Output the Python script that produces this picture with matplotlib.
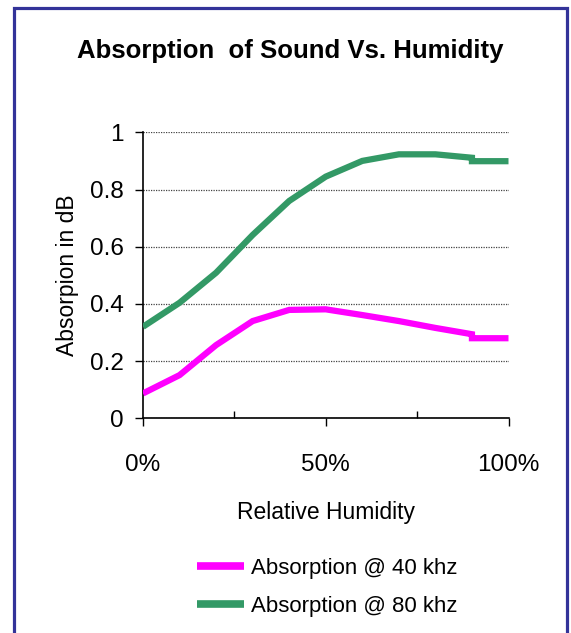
import matplotlib
matplotlib.use("Agg")
import matplotlib.pyplot as plt
from matplotlib.patches import Rectangle
from matplotlib.ticker import MultipleLocator, FuncFormatter

plt.rcParams['font.family'] = ['Liberation Sans', 'DejaVu Sans']

title = "Absorption  of Sound Vs. Humidity"
x_label = "Relative Humidity"
y_label = "Absorpion in dB"
series_names = ["Absorption @ 40 khz", "Absorption @ 80 khz"]
colors = ["#FF00FF", "#339966"]

humidity = [0, 10, 20, 30, 40, 50, 60, 70, 80, 90, 90, 100]
absorption_40 = [0.087, 0.151, 0.256, 0.340, 0.379, 0.381, 0.361, 0.340, 0.316, 0.294, 0.280, 0.280]
absorption_80 = [0.320, 0.404, 0.509, 0.641, 0.760, 0.845, 0.900, 0.923, 0.923, 0.911, 0.899, 0.899]

W, H = 571, 633
fig = plt.figure(figsize=(W / 100, H / 100), dpi=100)

ax = fig.add_axes([143 / W, 1 - 418.3 / H, (508.5 - 143) / W, (418.3 - 132.3) / H])

lines = []
for vals, c, name in zip([absorption_40, absorption_80], colors, series_names):
    ln, = ax.plot(humidity, vals, color=c, lw=4.5, solid_capstyle='butt',
                  solid_joinstyle='miter', label=name, zorder=3)
    lines.append(ln)

ax.set_xlim(0, 100)
ax.set_ylim(0, 1)
ax.yaxis.set_major_locator(MultipleLocator(0.2))
ax.yaxis.set_major_formatter(FuncFormatter(lambda v, p: "0" if abs(v) < 1e-9 else ("1" if abs(v - 1) < 1e-9 else f"{v:.1f}")))
ax.xaxis.set_major_locator(MultipleLocator(50))
ax.xaxis.set_minor_locator(MultipleLocator(25))
ax.xaxis.set_major_formatter(FuncFormatter(lambda v, p: f"{int(round(v))}%"))

for s in ['top', 'right']:
    ax.spines[s].set_visible(False)
for s in ['left', 'bottom']:
    ax.spines[s].set_linewidth(1.2)
    ax.spines[s].set_color('black')

ax.yaxis.grid(True, which='major', linestyle=(0, (1, 1)), color='#444444', linewidth=0.9)
ax.set_axisbelow(True)

ax.tick_params(axis='y', which='major', direction='out', length=6, width=1, labelsize=17.5, pad=8)
ax.tick_params(axis='x', which='major', direction='out', length=6, width=1, labelsize=17.5, pad=20)
ax.tick_params(axis='x', which='minor', direction='in', length=5, width=1)

ax.set_xlabel(x_label, fontsize=16.5, labelpad=18)
ax.set_ylabel(y_label, fontsize=16.5, labelpad=8)

fig.text(0.508, 1 - 51 / H, title, ha='center', va='center', fontsize=18.5, fontweight='bold')

leg = fig.legend(handles=lines, loc='upper left', bbox_to_anchor=(188 / W, 1 - 549 / H),
                 frameon=False, fontsize=16, handlelength=2.1, handletextpad=0.35,
                 labelspacing=0.75, borderaxespad=0)
for h in leg.legend_handles:
    h.set_linewidth(5.5)

border = Rectangle((14 / W, -0.05), (567 - 14) / W, 1.05 - 8 / H, transform=fig.transFigure,
                   fill=False, edgecolor='#333399', linewidth=2.3, clip_on=False)
fig.patches.append(border)

fig.savefig("out.png", dpi=100)
